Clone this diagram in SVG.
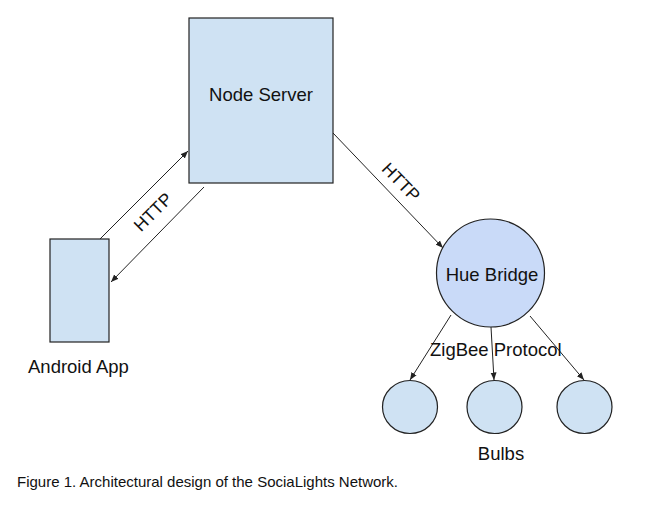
<svg xmlns="http://www.w3.org/2000/svg" width="662" height="505" viewBox="0 0 662 505">
<style>
text{font-family:"Liberation Sans",Arial,sans-serif;fill:#111}
.lbl{font-size:18.5px}
.node{fill:#cfe2f3;stroke:#222;stroke-width:1.2}
.con{stroke:#222;stroke-width:1;fill:none;marker-end:url(#ah)}
</style>
<defs>
<marker id="ah" markerUnits="userSpaceOnUse" markerWidth="8" markerHeight="7" refX="7.5" refY="3.5" orient="auto">
<path d="M0,0.5 L7.5,3.5 L0,6.5 z" fill="#222"/>
</marker>
</defs>
<rect width="662" height="505" fill="#fff"/>
<g id="connectors">
<line class="con" x1="100" y1="239" x2="188" y2="151"/>
<line class="con" x1="204" y1="187" x2="111" y2="282"/>
<line class="con" x1="333" y1="133" x2="443" y2="248"/>
<line class="con" x1="451" y1="315" x2="410" y2="380"/>
<line class="con" x1="491" y1="327" x2="494" y2="380"/>
<line class="con" x1="530" y1="316" x2="584" y2="380"/>
<text font-size="17.5" text-anchor="middle" transform="translate(153,212) rotate(-45)" dy="6">HTTP</text>
<text font-size="17.5" text-anchor="middle" transform="translate(401,182) rotate(46)" dy="6">HTTP</text>
<text class="lbl" x="430" y="356">ZigBee Protocol</text>
</g>
<g id="node-server">
<rect class="node" x="189" y="18" width="144" height="165"/>
<text class="lbl" x="261" y="101" text-anchor="middle">Node Server</text>
</g>
<g id="android-app">
<rect class="node" x="50" y="239" width="59" height="103" stroke-width="2.5" stroke="#000"/>
<text class="lbl" x="28" y="373">Android App</text>
</g>
<g id="hue-bridge">
<circle cx="490.5" cy="273" r="54" fill="#c9daf8" stroke="#222" stroke-width="1.2"/>
<text class="lbl" x="492" y="281" text-anchor="middle">Hue Bridge</text>
</g>
<g id="bulb-1"><ellipse class="node" cx="410" cy="407" rx="27.5" ry="26.5"/></g>
<g id="bulb-2"><ellipse class="node" cx="494.5" cy="407" rx="27.5" ry="26.5"/></g>
<g id="bulb-3"><ellipse class="node" cx="584.5" cy="407" rx="27.5" ry="26.5"/></g>
<g id="bulbs-label"><text class="lbl" x="501" y="460" text-anchor="middle">Bulbs</text></g>
<text x="17" y="487" font-size="15">Figure 1. Architectural design of the SociaLights Network.</text>
</svg>
